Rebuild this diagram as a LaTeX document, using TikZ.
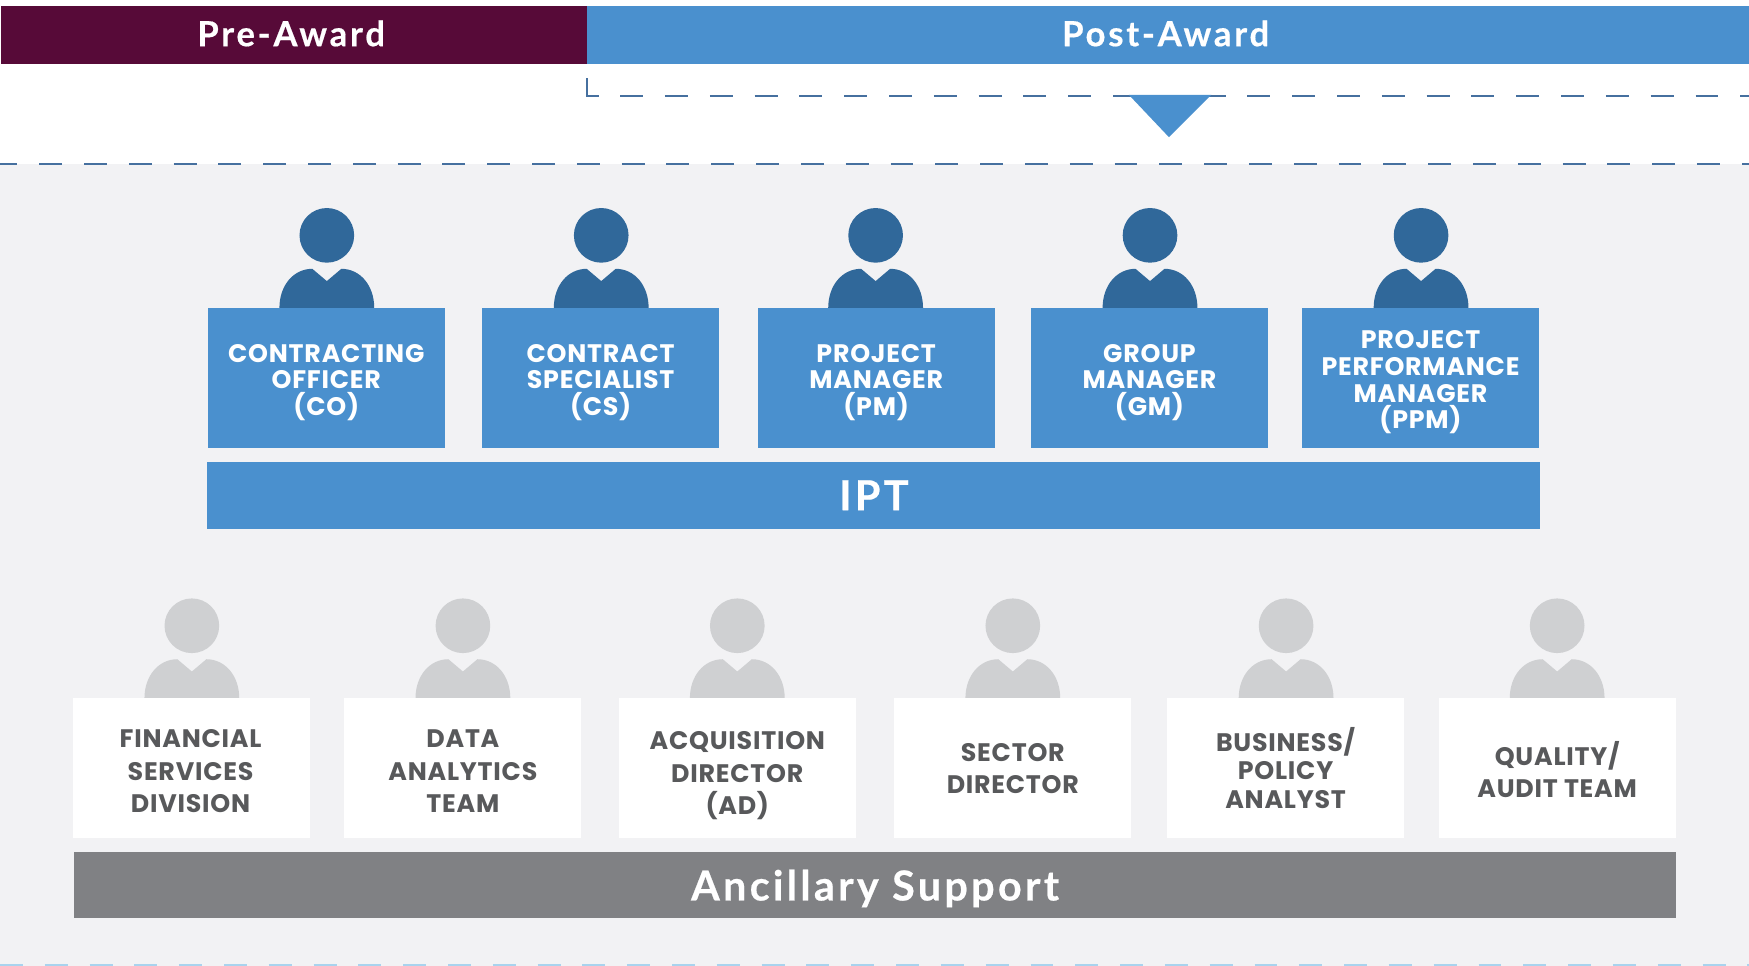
\documentclass[tikz,border=0pt]{standalone}
\usepackage{fontspec}
\setmainfont{Lato}
\newfontfamily\hdfont[LetterSpace=8,BoldFeatures={FakeBold=0.5}]{Lato}
\newfontfamily\lblfont[LetterSpace=3]{Poppins}
\definecolor{blueC}{HTML}{4A90CE}
\definecolor{darkC}{HTML}{30689A}
\definecolor{plumC}{HTML}{570A38}
\definecolor{bgC}{HTML}{F2F2F4}
\definecolor{personC}{HTML}{CFD0D2}
\definecolor{textC}{HTML}{58595B}
\definecolor{barC}{HTML}{808184}
\definecolor{dashC}{HTML}{46709F}
\definecolor{lightdashC}{HTML}{A9D3EE}
\tikzset{
  x=0.8365pt,y=-0.8365pt,
  band/.style={inner sep=0pt,outer sep=0pt,text=white,font=\hdfont\bfseries\fontsize{26}{30}\selectfont},
  bar/.style={inner sep=0pt,outer sep=0pt,text=white,minimum height=50pt,font=\hdfont\bfseries\fontsize{31}{36}\selectfont},
  cardbase/.style={inner sep=0pt,outer sep=0pt,minimum width=177.8pt,minimum height=105pt},
  bluecard/.style={cardbase,fill=blueC},
  whitecard/.style={cardbase,fill=white},
  bluetext/.style={inner sep=0pt,align=center,text=white,font=\lblfont\bfseries\fontsize{19}{20}\selectfont},
  greytext/.style={inner sep=0pt,align=center,text=textC,font=\lblfont\bfseries\fontsize{19}{24.3}\selectfont},
  dashline/.style={draw=dashC,line width=1.9pt,dash pattern=on 17.2pt off 16.4pt},
}
\newcommand{\persona}[4]{% name, x, y of head centre, colour
  \fill[#4] (#2-42.5,#3+65) .. controls (#2-42.5,#3+45) and (#2-30,#3+30) .. (#2-13,#3+30)
    -- (#2,#3+41) -- (#2+13,#3+30)
    .. controls (#2+30,#3+30) and (#2+42.5,#3+45) .. (#2+42.5,#3+65) -- cycle;
  \node[circle,fill=#4,inner sep=0pt,minimum size=41pt] (#1) at (#2,#3) {};
}
\begin{document}
\begin{tikzpicture}
\useasboundingbox (0,0) rectangle (1568,866);
\fill[white] (0,0) rectangle (1568,866);
\fill[bgC] (0,147) rectangle (1568,866);
% header
\node[band,fill=plumC,minimum width=439.2pt,minimum height=43.5pt,anchor=north west] (pre) at (1,5) {};
\node[band,fill=blueC,minimum width=871.7pt,minimum height=43.5pt,anchor=north west] (post) at (526,5) {};
\node[band] (pretext) at (261,30) {Pre-Award};
\node[band] (posttext) at (1045,30) {Post-Award};
% dashed lines
\coordinate (bs) at (526,70);
\coordinate (bc) at (526,86);
\coordinate (be) at (537,86);
\coordinate (ds) at (556,86);
\coordinate (de) at (1568,86);
\coordinate (hs) at (-5,147);
\coordinate (he) at (1568,147);
\coordinate (gs) at (0,865);
\coordinate (ge) at (1568,865);
\draw[draw=dashC,line width=1.6pt] (bs) -- (bc) -- (be);
\draw[dashline] (ds) -- (de);
\draw[dashline] (hs) -- (he);
\draw[dashline,draw=lightdashC] (gs) -- (ge);
\fill[blueC] (1012,85) -- (1086,85) -- (1048,123) -- cycle;
% IPT
\persona{pa}{293}{211}{darkC}
\persona{pb}{539}{211}{darkC}
\persona{pc}{785}{211}{darkC}
\persona{pd}{1031}{211}{darkC}
\persona{pe}{1274}{211}{darkC}
\node[bluecard,label={[bluetext,yshift=-3.3pt,name=colbl]center:{CONTRACTING\\OFFICER\\(CO)}}] (co) at (292.5,339) {};
\node[bluecard,label={[bluetext,yshift=-3.3pt,name=cslbl]center:{CONTRACT\\SPECIALIST\\(CS)}}] (cs) at (538.5,339) {};
\node[bluecard,label={[bluetext,yshift=-3.3pt,name=pmlbl]center:{PROJECT\\MANAGER\\(PM)}}] (pm) at (785.5,339) {};
\node[bluecard,label={[bluetext,yshift=-3.3pt,name=gmlbl]center:{GROUP\\MANAGER\\(GM)}}] (gm) at (1030.5,339) {};
\node[bluecard,label={[bluetext,yshift=-3.3pt,name=ppmlbl]center:{PROJECT\\PERFORMANCE\\MANAGER\\(PPM)}}] (ppm) at (1273.5,339) {};
\node[bar,fill=blueC,minimum width=999.6pt] (ipt) at (783.5,444) {IPT};
% Ancillary
\persona{qa}{172}{561}{personC}
\persona{qb}{415}{561}{personC}
\persona{qc}{661}{561}{personC}
\persona{qd}{908}{561}{personC}
\persona{qe}{1153}{561}{personC}
\persona{qf}{1396}{561}{personC}
\node[whitecard,label={[greytext,yshift=-2.5pt,xshift=-1pt,name=fslbl]center:{FINANCIAL\\SERVICES\\DIVISION}}] (fs) at (172,688.5) {};
\node[whitecard,label={[greytext,yshift=-2.5pt,name=dalbl]center:{DATA\\ANALYTICS\\TEAM}}] (da) at (415,688.5) {};
\node[whitecard,label={[greytext,yshift=-5.8pt,name=adlbl]center:{ACQUISITION\\DIRECTOR\\(AD)}}] (ad) at (661,688.5) {};
\node[whitecard,label={[greytext,yshift=-0.3pt,name=sdlbl]center:{SECTOR\\DIRECTOR}}] (sd) at (908,688.5) {};
\node[whitecard,label={[greytext,font=\lblfont\bfseries\fontsize{19}{21.3}\selectfont,name=bplbl]center:{BUSINESS/\\POLICY\\ANALYST}}] (bp) at (1152.5,688.5) {};
\node[whitecard,label={[greytext,yshift=-1pt,name=qtlbl]center:{QUALITY/\\AUDIT TEAM}}] (qt) at (1396,688.5) {};
\node[bar,fill=barC,minimum width=1202pt,text depth=0pt] (anc) at (784.5,793.5) {Ancillary Support};
\end{tikzpicture}
\end{document}
